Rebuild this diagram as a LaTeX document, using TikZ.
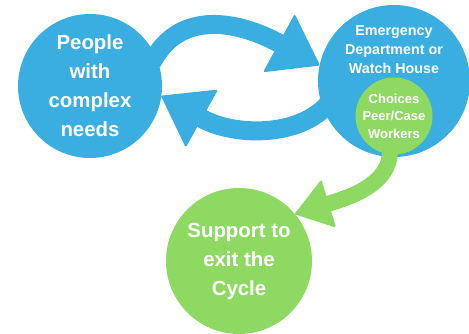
\documentclass[tikz,border=0pt]{standalone}
\usepackage{fontspec}
\setmainfont{Liberation Sans}
\usetikzlibrary{arrows.meta}
\definecolor{cblue}{HTML}{3AADE1}
\definecolor{cgreen}{HTML}{8DD962}
\pgfdeclarelayer{bg}
\pgfsetlayers{bg,main}
\begin{document}
\begin{tikzpicture}[x=1pt,y=-1pt,
  blob/.style={circle, inner sep=0pt, text=white, align=center},
  bigfont/.style={font=\bfseries\fontsize{20.4}{29}\selectfont},
  midfont/.style={font=\bfseries\fontsize{14.3}{19}\selectfont},
  smallfont/.style={font=\bfseries\fontsize{13}{17.5}\selectfont},
  bluearrow/.style={draw=cblue, line width=19pt,
    -{Triangle[width=66pt,length=47pt,line width=2pt,round,fill=cblue]}, shorten <=-8pt},
  greenarrow/.style={draw=cgreen, line width=16pt,
    -{Triangle[width=50pt,length=36pt,line width=2pt,round,fill=cgreen]}, shorten <=-4pt}]
\useasboundingbox (0,0) rectangle (469,333);
\node[blob, fill=cblue, minimum size=144pt, bigfont] (L) at (90,86) {People\\with\\complex\\needs};
\node[blob, fill=cblue, minimum size=152pt] (R) at (394,81) {};
\node[text=white, align=center, midfont] (RT) at (394,50) {Emergency\\Department or\\Watch House};
\node[blob, fill=cgreen, minimum size=76pt, smallfont] (S) at (394,116) {Choices\\Peer/Case\\Workers};
\node[blob, fill=cgreen, minimum size=146pt, bigfont] (B) at (239,261) {Support to\\exit the\\Cycle};
\begin{pgfonlayer}{bg}
\draw[bluearrow] (L.25) .. controls (180,8) and (240,22) .. (R.168);
\draw[bluearrow] (R.202) .. controls (300,137) and (235,137) .. (L.-8);
\end{pgfonlayer}
\draw[greenarrow] (S.264) .. controls (391,185) and (347,198) .. (B.40);
\end{tikzpicture}
\end{document}
